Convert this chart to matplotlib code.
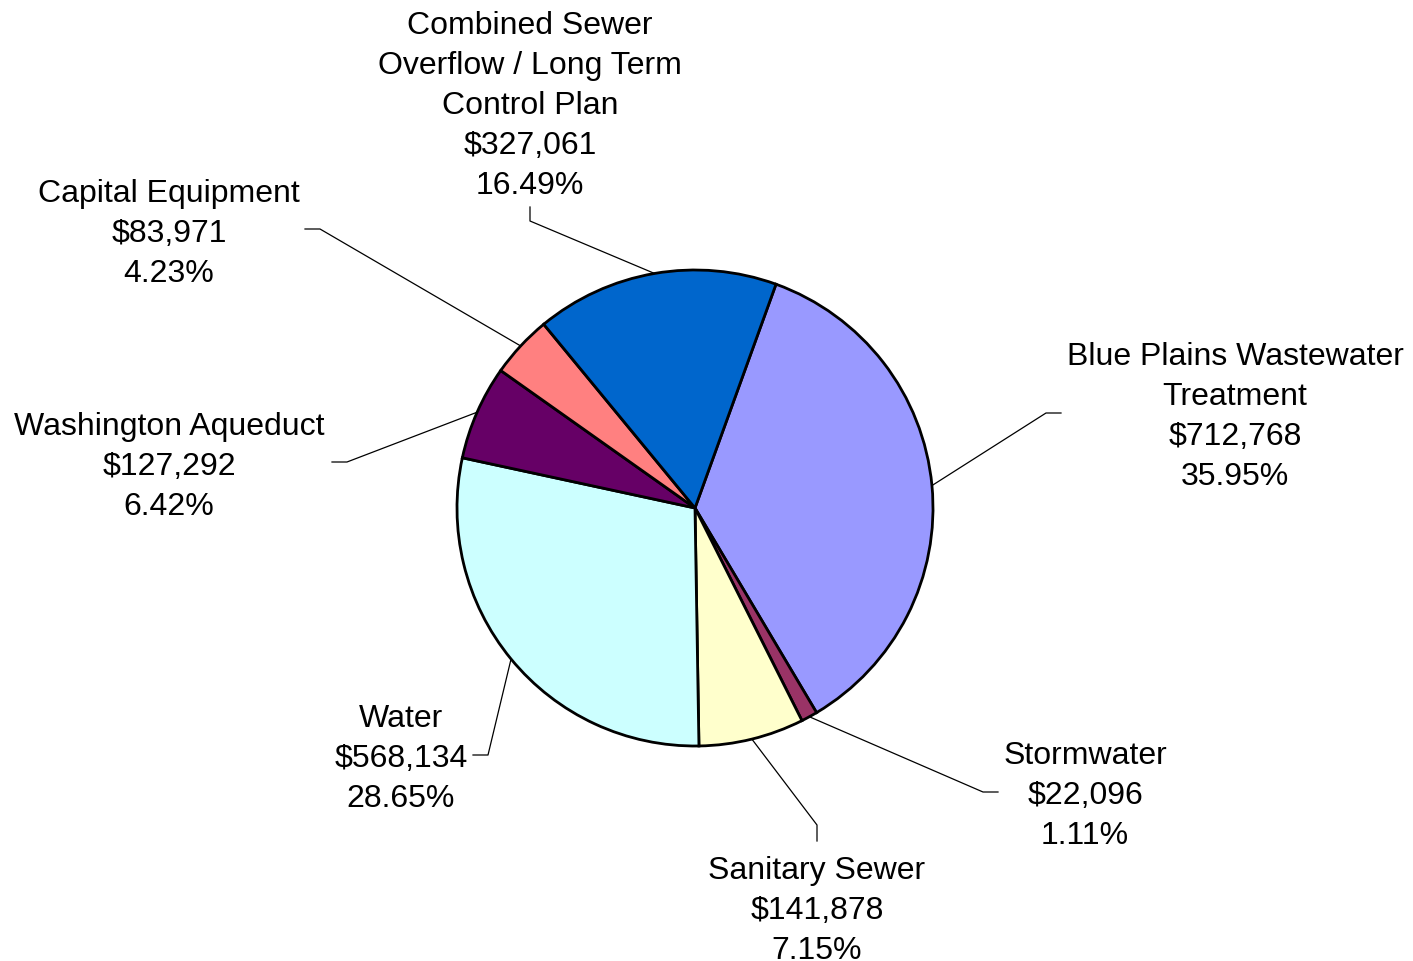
import numpy as np
import matplotlib.pyplot as plt

plt.rcParams['font.family'] = ['Liberation Sans', 'DejaVu Sans']

# data, in slice order (clockwise from the top)
names = ['Blue Plains Wastewater\nTreatment', 'Stormwater', 'Sanitary Sewer', 'Water',
         'Washington Aqueduct', 'Capital Equipment',
         'Combined Sewer\nOverflow / Long Term\nControl Plan']
amounts = [712768, 22096, 141878, 568134, 127292, 83971, 327061]
pcts = [35.95, 1.11, 7.15, 28.65, 6.42, 4.23, 16.49]
colors = ['#9999FF', '#993366', '#FFFFCC', '#CCFFFF', '#660066', '#FF8080', '#0066CC']

# label layout (pixel coords, y from top): text centre, elbow, stub end
text_pos = [(1235, 417), (1085, 796), (817, 911), (401, 759), (169, 467), (169, 234), (530, 106)]
elbows = [(1046, 414), (983, 793), (817, 826), (488, 756), (347, 463), (320, 230), (530, 222)]
stubs = [(1061, 414), (998, 793), (817, 842), (473, 756), (332, 463), (305, 230), (530, 208)]

W, H = 1413, 962
cx, cy, R = 695, H - 509, 238

fig = plt.figure(figsize=(W / 100, H / 100), dpi=100)
ax = fig.add_axes([0, 0, 1, 1])

wedges, _ = ax.pie(amounts, colors=colors, startangle=70.1, counterclock=False,
                   center=(cx, cy), radius=R,
                   wedgeprops=dict(edgecolor='black', linewidth=2))
ax.set_xlim(0, W)
ax.set_ylim(0, H)
ax.set_aspect('equal')
ax.axis('off')

for w, name, amt, pct, tp, el, st in zip(wedges, names, amounts, pcts, text_pos, elbows, stubs):
    mid = np.deg2rad((w.theta1 + w.theta2) / 2)
    px, py = cx + R * np.cos(mid), cy + R * np.sin(mid)
    ax.plot([px, el[0], st[0]], [py, H - el[1], H - st[1]], color='black', lw=0.9)
    label = f'{name}\n${amt:,}\n{pct:.2f}%'
    ax.text(tp[0], H - tp[1], label, ha='center', va='center', fontsize=23,
            linespacing=1.44, multialignment='center')

fig.savefig('out.png', dpi=100)
